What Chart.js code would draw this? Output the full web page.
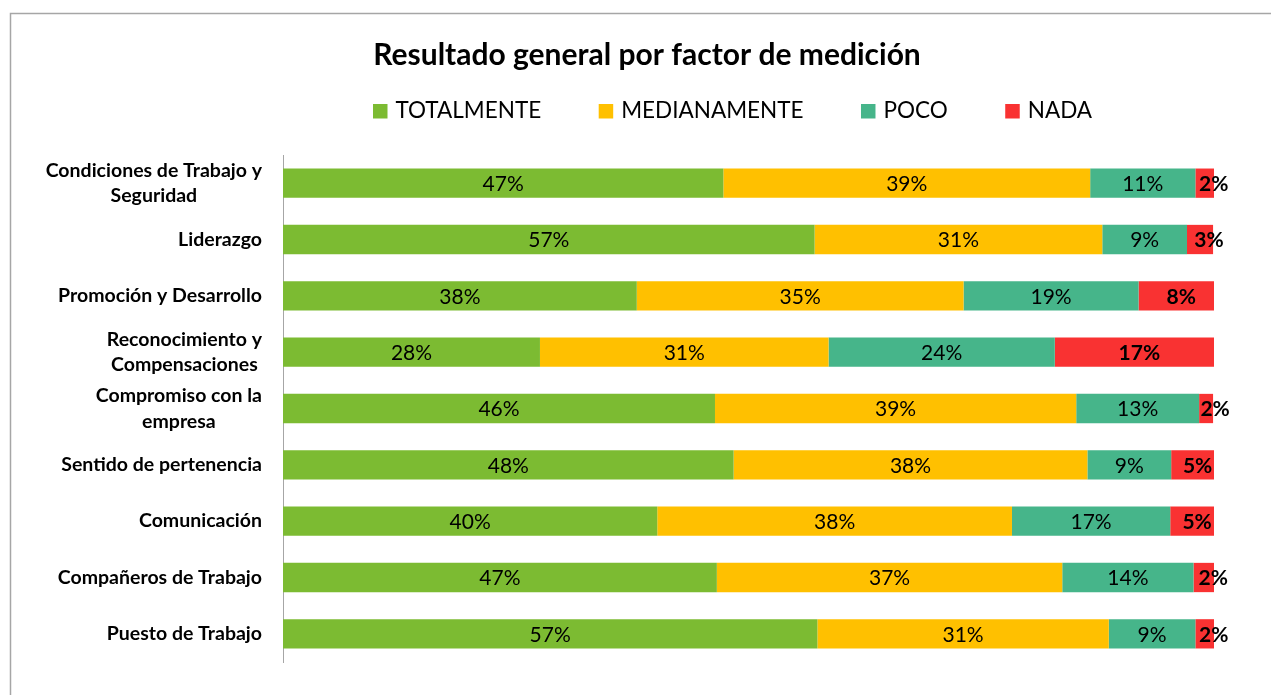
<!DOCTYPE html>
<html>
<head>
<meta charset="utf-8">
<script src="https://cdn.jsdelivr.net/npm/chart.js@4.4.1/dist/chart.umd.min.js"></script>
<style>
  html, body { margin: 0; padding: 0; background: #fff; }
</style>
</head>
<body>
<canvas id="myCanvas" width="1271" height="695"></canvas>
<script>
const categories = [
  ['Condiciones de Trabajo y', 'Seguridad'],
  ['Liderazgo'],
  ['Promoción y Desarrollo'],
  ['Reconocimiento y', 'Compensaciones'],
  ['Compromiso con la', 'empresa'],
  ['Sentido de pertenencia'],
  ['Comunicación'],
  ['Compañeros de Trabajo'],
  ['Puesto de Trabajo']
];
const seriesNames = ['TOTALMENTE', 'MEDIANAMENTE', 'POCO', 'NADA'];
const totalmente = [47.3, 57.1, 38.0, 27.6, 46.4, 48.4, 40.2, 46.6, 57.4];
const medianamente = [39.4, 30.9, 35.1, 31.0, 38.8, 38.0, 38.1, 37.1, 31.3];
const poco = [11.3, 9.1, 18.8, 24.3, 13.2, 9.0, 17.0, 14.1, 9.3];
const nada = [2.0, 2.8, 8.1, 17.1, 1.5, 4.6, 4.7, 2.3, 2.0];
const colors = ['#7CBB32', '#FFC000', '#46B58A', '#F93232'];

const FONT = 'Lato, "Open Sans", sans-serif';

const extras = {
  id: 'extras',
  beforeDraw(chart) {
    const ctx = chart.ctx;
    ctx.save();
    ctx.strokeStyle = '#a6a6a6';
    ctx.lineWidth = 1.5;
    ctx.strokeRect(10.5, 13.5, 1400, 800);
    ctx.restore();
  },
  afterDatasetsDraw(chart) {
    const ctx = chart.ctx;
    ctx.save();
    ctx.textBaseline = 'middle';
    ctx.textAlign = 'center';
    chart.data.datasets.forEach((ds, i) => {
      const meta = chart.getDatasetMeta(i);
      const last = i === chart.data.datasets.length - 1;
      ctx.font = (last ? 'bold ' : '') + '21px ' + FONT;
      ctx.fillStyle = '#000';
      meta.data.forEach((bar, j) => {
        const p = bar.getProps(['x', 'y', 'base'], true);
        let cx = (p.x + p.base) / 2;
        if (last) cx += Math.abs(p.x - p.base) < 30 ? 9 : 5;
        ctx.fillText(Math.round(ds.data[j]) + '%', cx, p.y + 1);
      });
    });
    ctx.restore();
  },
  afterDraw(chart) {
    const ctx = chart.ctx;
    const yScale = chart.scales.y;
    ctx.save();
    // category labels: block right aligned, lines centered
    ctx.font = 'bold 19.5px ' + FONT;
    ctx.fillStyle = '#000';
    ctx.textBaseline = 'middle';
    ctx.textAlign = 'center';
    const right = 262, lh = 25.5;
    categories.forEach((lines, j) => {
      const cy = yScale.getPixelForValue(j);
      const w = Math.max(...lines.map(l => ctx.measureText(l).width));
      const cx = right - w / 2;
      lines.forEach((l, k) => {
        ctx.fillText(l, cx, cy + (k - (lines.length - 1) / 2) * lh);
      });
    });
    // legend
    ctx.font = '22.5px ' + FONT;
    ctx.textAlign = 'left';
    let x = 373;
    const ly = 110;
    chart.data.datasets.forEach((ds) => {
      ctx.fillStyle = ds.backgroundColor;
      ctx.fillRect(x, 104, 14.5, 14.5);
      ctx.fillStyle = '#000';
      ctx.fillText(ds.label, x + 22.5, ly + 1);
      x += 22.5 + ctx.measureText(ds.label).width + 57.5;
    });
    ctx.restore();
  }
};

const ctx = document.getElementById('myCanvas').getContext('2d');
new Chart(ctx, {
  type: 'bar',
  data: {
    labels: categories,
    datasets: [
      { label: seriesNames[0], data: totalmente, backgroundColor: colors[0] },
      { label: seriesNames[1], data: medianamente, backgroundColor: colors[1] },
      { label: seriesNames[2], data: poco, backgroundColor: colors[2] },
      { label: seriesNames[3], data: nada, backgroundColor: colors[3] }
    ].map(d => Object.assign(d, { barPercentage: 0.52, categoryPercentage: 1, borderWidth: 0 }))
  },
  options: {
    responsive: false,
    animation: false,
    indexAxis: 'y',
    layout: { padding: { left: 80, right: 57, top: 19, bottom: 33 } },
    plugins: {
      legend: { display: false },
      tooltip: { enabled: false },
      title: {
        display: true,
        text: 'Resultado general por factor de medición',
        color: '#000',
        font: { family: FONT, size: 30, weight: 'bold' },
        padding: { top: 18, bottom: 82 }
      }
    },
    scales: {
      x: { stacked: true, min: 0, max: 100, display: false },
      y: {
        stacked: true,
        grid: { display: false },
        border: { display: true, color: '#a6a6a6', width: 1 },
        ticks: { display: false },
        afterFit: s => { s.width = 203; }
      }
    }
  },
  plugins: [extras]
});
</script>
</body>
</html>
